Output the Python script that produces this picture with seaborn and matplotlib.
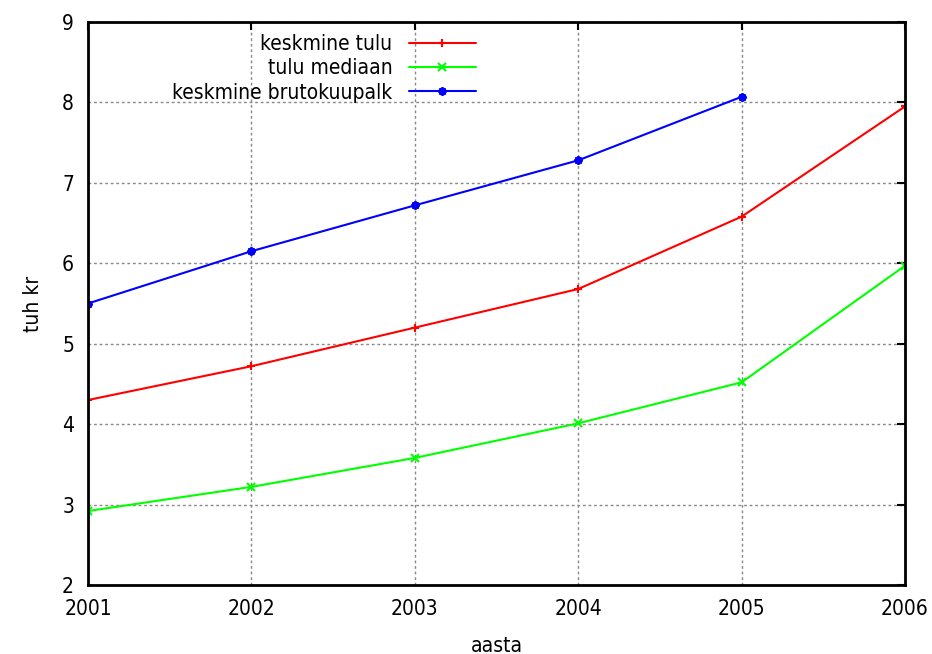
import numpy as np
import pandas as pd
import seaborn as sns
import matplotlib.pyplot as plt

# andmed (tuh kr)
aastad = [2001, 2002, 2003, 2004, 2005, 2006]
keskmine_tulu = [4.30, 4.72, 5.20, 5.68, 6.58, 7.95]
tulu_mediaan = [2.92, 3.22, 3.58, 4.01, 4.52, 5.97]
brutokuupalk = [5.50, 6.15, 6.72, 7.28, 8.07]

nimed = ['keskmine tulu', 'tulu mediaan', 'keskmine brutokuupalk']
varvid = ['#ff0000', '#00ff00', '#0000ff']
markerid = ['+', 'x', (8, 2, 0)]

df = pd.concat([
    pd.DataFrame({'aasta': aastad, 'väärtus': keskmine_tulu, 'seeria': nimed[0]}),
    pd.DataFrame({'aasta': aastad, 'väärtus': tulu_mediaan, 'seeria': nimed[1]}),
    pd.DataFrame({'aasta': aastad[:5], 'väärtus': brutokuupalk, 'seeria': nimed[2]}),
])

sns.set_style('white')
plt.rcParams['font.family'] = ['Liberation Sans Narrow', 'DejaVu Sans']
plt.rcParams['font.stretch'] = 'condensed'
plt.rcParams['text.color'] = 'black'
plt.rcParams['axes.labelcolor'] = 'black'

fig = plt.figure(figsize=(9.32, 6.54), dpi=100)
ax = fig.add_axes([88 / 932, 1 - 585 / 654, (905 - 88) / 932, (585 - 22) / 654])

sns.lineplot(data=df, x='aasta', y='väärtus', hue='seeria', style='seeria',
             palette=varvid, markers=markerid, dashes=False, hue_order=nimed,
             style_order=nimed, markersize=6, markeredgewidth=1.5, linewidth=1.5,
             ax=ax, legend=True)
for ln in ax.lines:
    ln.set_markeredgecolor(ln.get_color())

ax.set_xlim(2001, 2006)
ax.set_ylim(2, 9)
ax.set_xticks(aastad)
ax.set_yticks(range(2, 10))
ax.grid(True, color='#888888', linestyle=(0, (2, 2)), linewidth=1)
for s in ax.spines.values():
    s.set_color('black')
    s.set_linewidth(2)
ax.tick_params(direction='in', length=6, width=1.5, top=True, right=True,
               labelsize=15, pad=10, colors='black')
ax.set_xlabel('aasta', fontsize=15, labelpad=12)
ax.set_ylabel('tuh kr', fontsize=15, labelpad=14)

h, l = ax.get_legend_handles_labels()
for hd in h:
    hd.set_markeredgecolor(hd.get_color())
ax.legend(h, l, loc='upper right', bbox_to_anchor=(484 / 932, 1 - 26 / 654),
          bbox_transform=fig.transFigure, frameon=False, markerfirst=False,
          fontsize=15, handlelength=3.2, handletextpad=0.8, labelspacing=0.2,
          borderaxespad=0)

fig.savefig('out.png', dpi=100)
